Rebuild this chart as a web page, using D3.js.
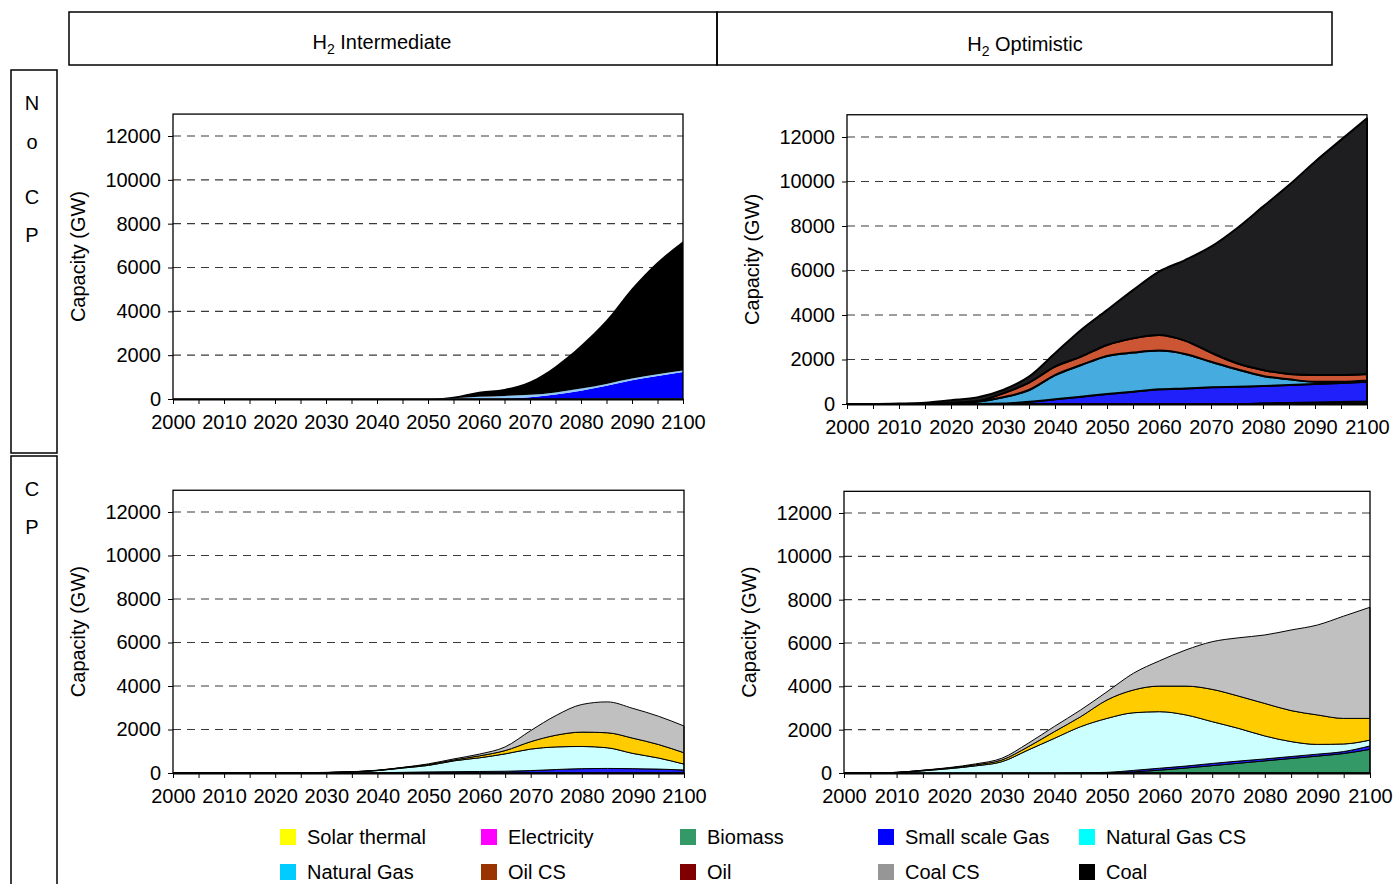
<!DOCTYPE html>
<html>
<head>
<meta charset="utf-8">
<script src="https://cdn.jsdelivr.net/npm/d3@7"></script>
<style>
  body { margin: 0; background: #fff; }
  svg { display: block; font-family: "Liberation Sans", Arial, sans-serif; }
</style>
</head>
<body>
<svg id="chart" width="1396" height="884"></svg>
<script>
// Years on the horizontal axis (5-year steps) and axis tick values
const years = [2000, 2005, 2010, 2015, 2020, 2025, 2030, 2035, 2040, 2045, 2050,
               2055, 2060, 2065, 2070, 2075, 2080, 2085, 2090, 2095, 2100];
const yearLabels = [2000, 2010, 2020, 2030, 2040, 2050, 2060, 2070, 2080, 2090, 2100];
const capacityTicks = [0, 2000, 4000, 6000, 8000, 10000, 12000];

// Hydrogen production capacity (GW), H2 Intermediate, no carbon policy
const intNoCpBiomass = [0,0,0,0,0,0,0,0,0,0,0,0,0,0,0,0,10,20,20,30,30];
const intNoCpSmallGas = [0,0,0,0,0,0,0,0,0,0,0,0,0,20,80,200,370,580,830,1020,1200];
const intNoCpNatGas = [0,0,0,0,0,0,0,0,0,0,0,30,100,120,110,100,100,90,80,80,70];
const intNoCpCoal = [0,0,0,0,0,0,0,0,0,0,0,70,230,320,610,1200,1970,2910,4120,5120,5900];

// H2 Optimistic, no carbon policy
const optNoCpBiomass = [0,0,0,0,0,0,0,0,0,0,0,0,0,0,0,0,30,50,70,90,110];
const optNoCpSmallGas = [0,0,0,0,0,0,20,100,210,330,450,550,660,700,750,780,780,800,830,850,890];
const optNoCpNatGas = [0,0,0,10,40,100,280,530,1090,1420,1710,1760,1740,1550,1150,780,450,260,100,60,60];
const optNoCpOil = [0,0,0,0,10,30,180,330,380,380,490,640,700,600,410,270,270,240,300,300,290];
const optNoCpCoal = [0,0,20,50,120,160,150,270,600,1200,1570,2170,2850,3620,4760,6070,7340,8490,9590,10570,11490];

// H2 Intermediate, carbon policy
const intCpSmallGas = [0,0,0,0,0,0,0,0,10,30,50,60,70,80,110,160,200,210,200,180,140];
const intCpNatGasCs = [0,0,0,0,0,0,20,50,100,200,300,500,630,800,990,1040,1020,950,700,510,270];
const intCpSolar = [0,0,0,0,0,0,0,5,10,20,40,40,90,150,340,540,660,690,700,620,520];
const intCpCoalCs = [0,0,0,0,0,10,10,5,10,10,30,50,80,170,510,910,1270,1420,1370,1300,1230];

// H2 Optimistic, carbon policy
const optCpBiomass = [0,0,0,0,0,0,0,0,0,0,0,50,130,230,340,450,560,670,780,900,1090];
const optCpSmallGas = [0,0,0,0,0,0,0,0,0,10,30,70,90,90,100,100,90,90,90,90,160];
const optCpNatGasCs = [0,0,20,100,200,330,520,1060,1600,2130,2490,2660,2610,2360,1930,1510,1060,690,450,350,270];
const optCpSolar = [0,0,10,20,30,50,80,150,310,460,850,1050,1180,1330,1490,1490,1500,1430,1360,1180,1000];
const optCpCoalCs = [0,0,0,10,20,40,80,160,240,310,380,770,1170,1670,2200,2690,3160,3720,4150,4720,5130];

// Technologies in stacking order (bottom to top)
const technologies = ["Biomass", "Small scale Gas", "Natural Gas CS", "Natural Gas",
                      "Oil CS", "Oil", "Solar thermal", "Electricity", "Coal CS", "Coal"];
const areaColors = {
  "Biomass": "#339966", "Small scale Gas": "#2020fa", "Natural Gas CS": "#ccffff",
  "Natural Gas": "#46ace0", "Oil CS": "#993300", "Oil": "#cc5533",
  "Solar thermal": "#ffcc00", "Electricity": "#ff00ff", "Coal CS": "#c0c0c0", "Coal": "#1e1e21"
};

// Legend rows as they are laid out under the panels
const legendRow1 = ["Solar thermal", "Electricity", "Biomass", "Small scale Gas", "Natural Gas CS"];
const legendRow2 = ["Natural Gas", "Oil CS", "Oil", "Coal CS", "Coal"];
const legendColors = {
  "Solar thermal": "#ffff00", "Electricity": "#ff00ff", "Biomass": "#339966",
  "Small scale Gas": "#0000ff", "Natural Gas CS": "#00ffff", "Natural Gas": "#00ccff",
  "Oil CS": "#993300", "Oil": "#800000", "Coal CS": "#969696", "Coal": "#000000"
};

const panels = [
  { series: { "Biomass": intNoCpBiomass, "Small scale Gas": intNoCpSmallGas,
              "Natural Gas": intNoCpNatGas, "Coal": intNoCpCoal },
    fills: { "Small scale Gas": "#0000ff", "Natural Gas": "#8ec9f7", "Coal": "#000000" },
    outline: 0,
    left: 173, right: 683, zeroY: 399, y12k: 136 },
  { series: { "Biomass": optNoCpBiomass, "Small scale Gas": optNoCpSmallGas,
              "Natural Gas": optNoCpNatGas, "Oil": optNoCpOil, "Coal": optNoCpCoal },
    fills: {},
    outline: 2,
    left: 847, right: 1367, zeroY: 404, y12k: 137 },
  { series: { "Small scale Gas": intCpSmallGas, "Natural Gas CS": intCpNatGasCs,
              "Solar thermal": intCpSolar, "Coal CS": intCpCoalCs },
    fills: {},
    outline: 1,
    left: 173, right: 684, zeroY: 773, y12k: 512 },
  { series: { "Biomass": optCpBiomass, "Small scale Gas": optCpSmallGas,
              "Natural Gas CS": optCpNatGasCs, "Solar thermal": optCpSolar, "Coal CS": optCpCoalCs },
    fills: {},
    outline: 1,
    left: 844, right: 1370, zeroY: 773, y12k: 513 }
];

const svg = d3.select("#chart");
const FONT = 20;

// Column headers
const headers = [
  { x0: 69, x1: 717, cx: 382, cy: 42, name: " Intermediate" },
  { x0: 717, x1: 1332, cx: 1025, cy: 44, name: " Optimistic" }
];
headers.forEach(h => {
  svg.append("rect").attr("x", h.x0).attr("y", 12).attr("width", h.x1 - h.x0).attr("height", 53)
    .attr("fill", "none").attr("stroke", "#000").attr("stroke-width", 1.5);
  const t = svg.append("text").attr("x", h.cx).attr("y", h.cy + 7)
    .attr("text-anchor", "middle").attr("font-size", FONT).attr("fill", "#000");
  t.append("tspan").text("H");
  t.append("tspan").attr("font-size", 14).attr("dy", 5).text("2");
  t.append("tspan").attr("dy", -5).text(h.name);
});

// Row headers with stacked letters
const rowHeaders = [
  { y0: 70, y1: 453, letters: [["N", 103], ["o", 142], ["C", 197], ["P", 235]] },
  { y0: 456, y1: 900, letters: [["C", 489], ["P", 527]] }
];
rowHeaders.forEach(r => {
  svg.append("rect").attr("x", 11).attr("y", r.y0).attr("width", 46).attr("height", r.y1 - r.y0)
    .attr("fill", "none").attr("stroke", "#000").attr("stroke-width", 1.5);
  r.letters.forEach(([ch, cy]) => {
    svg.append("text").attr("x", 32).attr("y", cy + 7).attr("text-anchor", "middle")
      .attr("font-size", FONT).text(ch);
  });
});

// Stacked area panels
panels.forEach(p => {
  const x = d3.scaleLinear().domain([2000, 2100]).range([p.left, p.right]);
  const y = d3.scaleLinear().domain([0, 12000]).range([p.zeroY, p.y12k]);
  const top = y(13000);

  const g = svg.append("g");

  const rows = years.map((yr, i) => {
    const row = { year: yr };
    technologies.forEach(k => { row[k] = p.series[k] ? p.series[k][i] : 0; });
    return row;
  });
  const keys = technologies.filter(k => p.series[k]);
  const stacked = d3.stack().keys(keys)(rows);

  // dashed gridlines
  g.selectAll("line.grid").data(capacityTicks.filter(v => v > 0)).join("line")
    .attr("x1", p.left).attr("x2", p.right)
    .attr("y1", d => y(d)).attr("y2", d => y(d))
    .attr("stroke", "#3a3a3a").attr("stroke-width", 1.2).attr("stroke-dasharray", "8,6");

  const area = d3.area()
    .x(d => x(d.data.year)).y0(d => y(d[0])).y1(d => y(d[1]))
    .curve(d3.curveMonotoneX);

  g.selectAll("path.layer").data(stacked).join("path")
    .attr("d", area)
    .attr("fill", d => p.fills[d.key] || areaColors[d.key])
    .attr("stroke", p.outline > 0 ? "#000" : "none")
    .attr("stroke-width", p.outline).attr("stroke-linejoin", "round");

  // plot frame
  g.append("rect").attr("x", p.left).attr("y", top).attr("width", p.right - p.left)
    .attr("height", p.zeroY - top).attr("fill", "none").attr("stroke", "#000").attr("stroke-width", 1.3);

  // y axis
  const yAxis = g.append("g").attr("transform", `translate(${p.left},0)`)
    .call(d3.axisLeft(y).tickValues(capacityTicks).tickFormat(d3.format("d")).tickSize(5).tickPadding(7));
  yAxis.select(".domain").remove();
  yAxis.selectAll("line").attr("stroke", "#000");
  yAxis.selectAll("text").attr("font-size", FONT).attr("font-family", "Liberation Sans, Arial, sans-serif").attr("fill", "#000");

  // x axis
  const xAxis = g.append("g").attr("transform", `translate(0,${p.zeroY})`)
    .call(d3.axisBottom(x).tickValues(years)
      .tickFormat(d => yearLabels.includes(d) ? String(d) : "")
      .tickSize(5).tickPadding(11).tickSizeOuter(0));
  xAxis.select(".domain").attr("stroke", "#000").attr("stroke-width", 2.2);
  xAxis.selectAll("line").attr("stroke", "#000");
  xAxis.selectAll("text").attr("font-size", FONT).attr("font-family", "Liberation Sans, Arial, sans-serif").attr("fill", "#000");

  // y axis title
  g.append("text")
    .attr("transform", `translate(${p.left - 95},${(top + p.zeroY) / 2}) rotate(-90)`)
    .attr("text-anchor", "middle").attr("dy", "0.35em")
    .attr("font-size", FONT).text("Capacity (GW)");
});

// Legend
const legendX = [280, 481, 680, 878, 1079];
[[legendRow1, 837], [legendRow2, 872]].forEach(([names, cy]) => {
  const items = svg.append("g").selectAll("g").data(names).join("g")
    .attr("transform", (d, i) => `translate(${legendX[i]},${cy})`);
  items.append("rect").attr("x", 0).attr("y", -8).attr("width", 16).attr("height", 16)
    .attr("fill", d => legendColors[d]);
  items.append("text").attr("x", 27).attr("y", 7).attr("font-size", FONT).text(d => d);
});
</script>
</body>
</html>
